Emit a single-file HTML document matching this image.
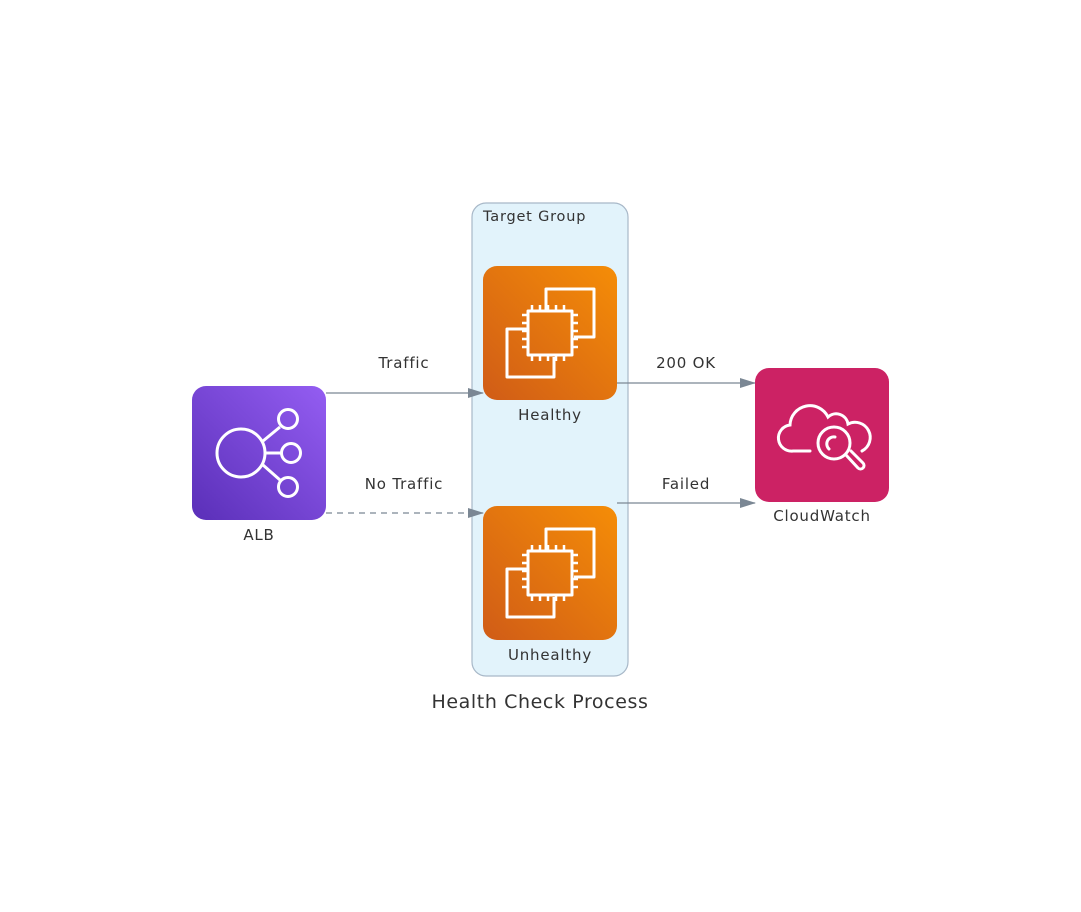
<!DOCTYPE html>
<html><head><style>body{margin:0;background:#fff}svg{display:block}text{font-family:"DejaVu Sans","Liberation Sans",sans-serif;fill:#333;letter-spacing:0.8px}</style></head>
<body>
<svg width="1081" height="912" viewBox="0 0 1081 912" xmlns="http://www.w3.org/2000/svg">
<defs>
<linearGradient id="o" x1="0" y1="1" x2="1" y2="0"><stop offset="0" stop-color="#d05c17"/><stop offset="1" stop-color="#f58d07"/></linearGradient>
<linearGradient id="p" x1="0" y1="1" x2="1" y2="0"><stop offset="0" stop-color="#5a2fb8"/><stop offset="1" stop-color="#945df2"/></linearGradient>
<marker id="a" markerWidth="16" markerHeight="10" refX="15" refY="5" orient="auto" markerUnits="userSpaceOnUse"><path d="M0,0L16,5L0,10z" fill="#7b8794"/></marker>
<g id="ec2" fill="none" stroke="#fff" stroke-width="3" stroke-linejoin="round">
<rect x="45" y="45" width="44" height="44"/>
<path d="M63,44V23h48v48H91"/>
<path d="M44,63H24v48h47V91"/>
<path d="M49,45v-6M57,45v-6M65,45v-6M73,45v-6M81,45v-6M49,89v6M57,89v6M65,89v6M73,89v6M81,89v6M45,49h-6M45,57h-6M45,65h-6M45,73h-6M45,81h-6M89,49h6M89,57h6M89,65h6M89,73h6M89,81h6" stroke-width="2.5"/>
</g>
</defs>
<rect x="472" y="203" width="156" height="473" rx="14" fill="#e2f3fb" stroke="#a8b8c8" stroke-width="1.2"/>
<text x="483" y="221" font-size="14.5">Target Group</text>
<line x1="326" y1="393" x2="483" y2="393" stroke="#7b8794" stroke-width="1.3" marker-end="url(#a)"/>
<line x1="326" y1="513" x2="483" y2="513" stroke="#7b8794" stroke-width="1.3" stroke-dasharray="6,5" marker-end="url(#a)"/>
<line x1="617" y1="383" x2="755" y2="383" stroke="#7b8794" stroke-width="1.3" marker-end="url(#a)"/>
<line x1="617" y1="503" x2="755" y2="503" stroke="#7b8794" stroke-width="1.3" marker-end="url(#a)"/>
<text x="404" y="368" font-size="15" text-anchor="middle">Traffic</text>
<text x="404" y="489" font-size="15" text-anchor="middle">No Traffic</text>
<text x="686" y="368" font-size="15" text-anchor="middle">200 OK</text>
<text x="686" y="489" font-size="15" text-anchor="middle">Failed</text>
<rect x="192" y="386" width="134" height="134" rx="14" fill="url(#p)"/>
<g fill="none" stroke="#fff" stroke-width="3">
<circle cx="241" cy="453" r="24"/><circle cx="288" cy="419" r="9.5"/><circle cx="291" cy="453" r="9.5"/><circle cx="288" cy="487" r="9.5"/>
<path d="M263,441L280,427M265,453H281M263,465L280,480"/>
</g>
<text x="259" y="540" font-size="15" text-anchor="middle">ALB</text>
<rect x="483" y="266" width="134" height="134" rx="14" fill="url(#o)"/>
<use href="#ec2" x="483" y="266"/>
<text x="550" y="420" font-size="15" text-anchor="middle">Healthy</text>
<rect x="483" y="506" width="134" height="134" rx="14" fill="url(#o)"/>
<use href="#ec2" x="483" y="506"/>
<text x="550" y="660" font-size="15" text-anchor="middle">Unhealthy</text>
<rect x="755" y="368" width="134" height="134" rx="14" fill="#cc2264"/>
<g fill="none" stroke="#fff" stroke-width="3" stroke-linecap="round">
<path d="M810,451H793a13,13 0 0 1 -3,-26a20,20 0 0 1 38,-8a12,12 0 0 1 20,7a15,15 0 0 1 14,27"/>
<circle cx="834" cy="443" r="16"/>
<path d="M829,449a7,7 0 0 1 6,-12"/>
<path d="M846,455l12,13a3,3 0 0 0 5,-5l-12,-12"/>
</g>
<text x="822" y="521" font-size="15" text-anchor="middle">CloudWatch</text>
<text x="540" y="708" font-size="19" text-anchor="middle" style="letter-spacing:0.6px">Health Check Process</text>
</svg>
</body></html>
